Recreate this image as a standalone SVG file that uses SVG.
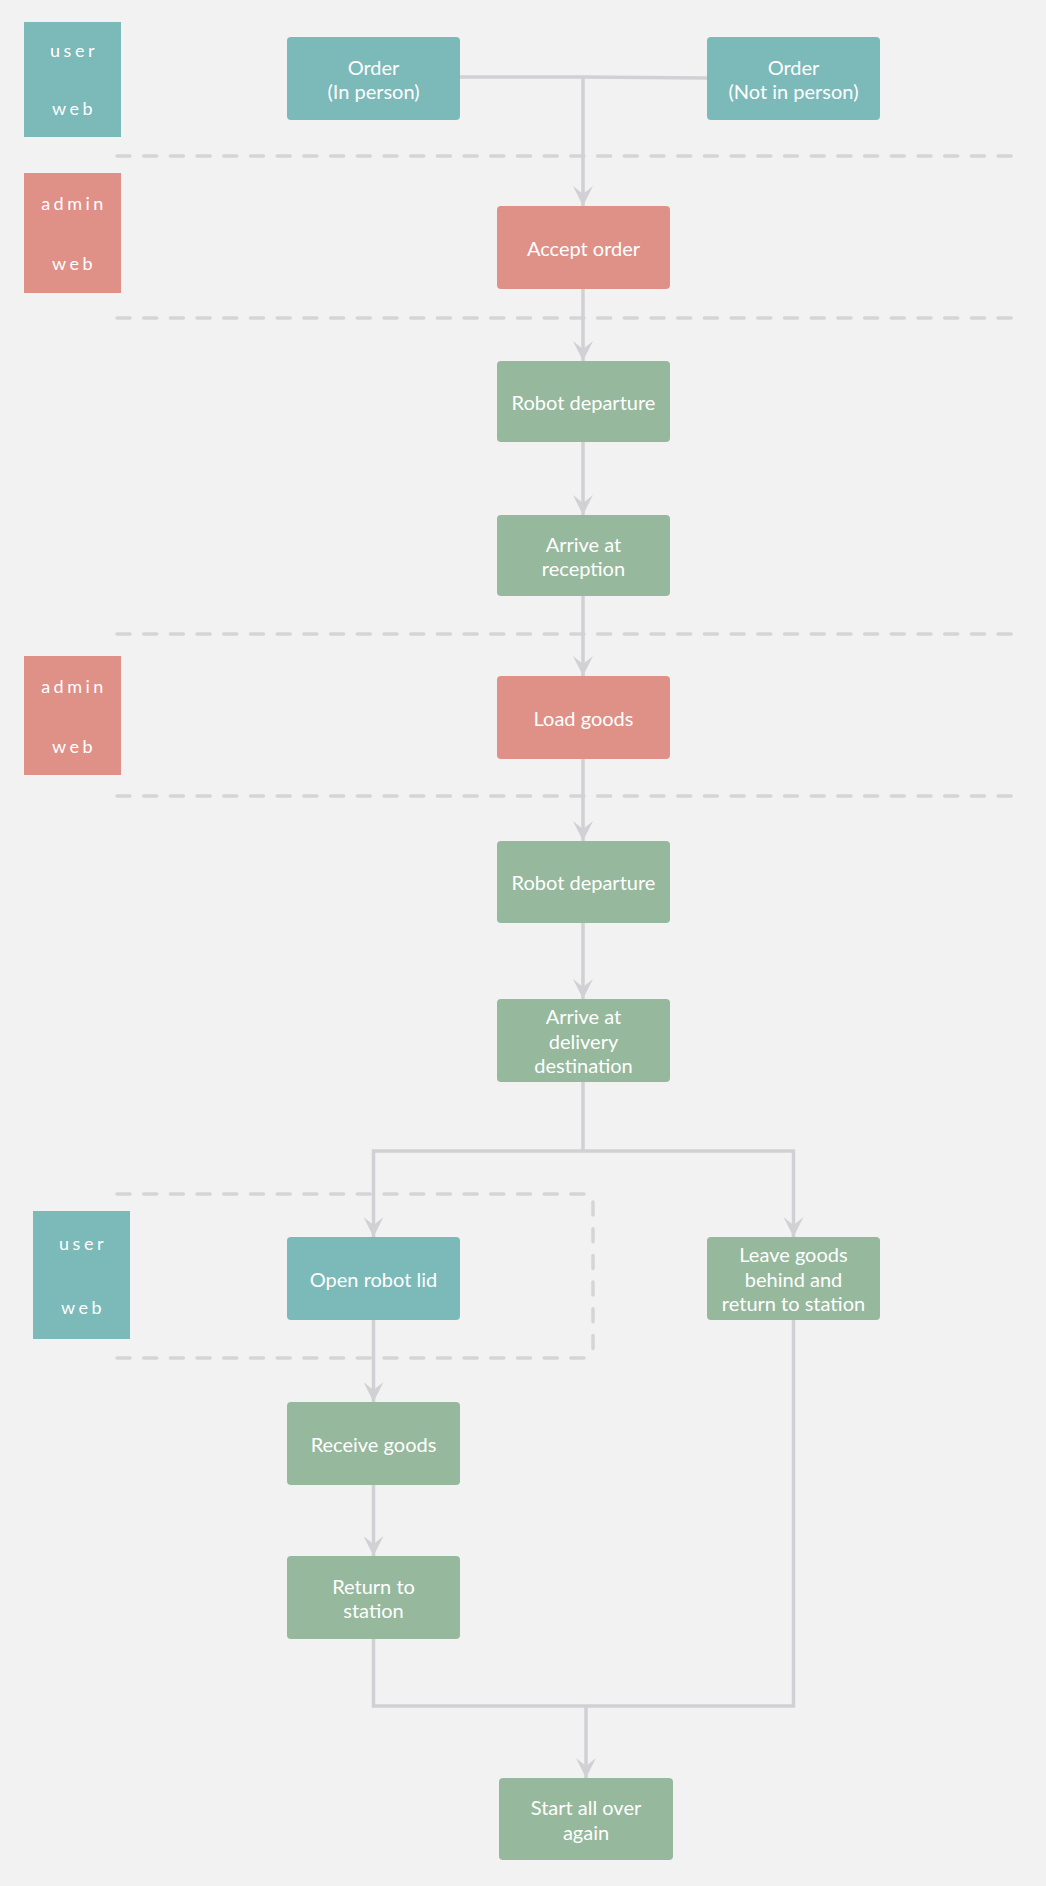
<svg xmlns="http://www.w3.org/2000/svg" width="1046" height="1886" viewBox="0 0 1046 1886">
<style>
.bg{fill:#f2f2f2}
.teal{fill:#7cb9b9}
.red{fill:#df9087}
.green{fill:#96b89d}
.t{font-family:Lato,"Open Sans","Liberation Sans",sans-serif;font-size:20px;fill:#fff;text-anchor:middle}
.lane{font-family:Lato,"Open Sans","Liberation Sans",sans-serif;font-size:18px;fill:#fff;text-anchor:middle;letter-spacing:3.5px}
.c{fill:none;stroke:#d1d1d5;stroke-width:3.5}
.d{fill:none;stroke:#d5d5d8;stroke-width:3.5;stroke-dasharray:13 13.7;stroke-linecap:round}
</style>
<defs>
<marker id="ah" viewBox="0 0 20 20" refX="20" refY="10" markerWidth="20" markerHeight="20" markerUnits="userSpaceOnUse" orient="auto">
<path d="M0,0 L20,10 L0,20 L8,10 z" fill="#d1d1d5"/>
</marker>
</defs>
<rect class="bg" x="0" y="0" width="1046" height="1886"/>
<g id="separators">
<line class="d" x1="117" y1="156" x2="1015" y2="156"/>
<line class="d" x1="117" y1="318" x2="1015" y2="318"/>
<line class="d" x1="117" y1="634" x2="1015" y2="634"/>
<line class="d" x1="117" y1="796" x2="1015" y2="796"/>
<line class="d" x1="117" y1="1194" x2="587" y2="1194"/>
<line class="d" x1="593" y1="1202" x2="593" y2="1352"/>
<line class="d" x1="117" y1="1358" x2="587" y2="1358"/>
</g>
<g id="lane-user-1"><rect class="teal" x="24" y="22" width="97" height="115"/><text class="lane" x="74" y="57">user</text><text class="lane" x="74" y="115">web</text></g>
<g id="lane-admin-1"><rect class="red" x="24" y="173" width="97" height="120"/><text class="lane" x="74" y="210">admin</text><text class="lane" x="74" y="270">web</text></g>
<g id="lane-admin-2"><rect class="red" x="24" y="656" width="97" height="119"/><text class="lane" x="74" y="693">admin</text><text class="lane" x="74" y="753">web</text></g>
<g id="lane-user-3"><rect class="teal" x="33" y="1211" width="97" height="128"/><text class="lane" x="83" y="1250">user</text><text class="lane" x="83" y="1314">web</text></g>
<g id="connectors">
<path class="c" d="M460,77 H583"/>
<path class="c" d="M707,78 L583,77"/>
<path class="c" d="M583,77 V206" marker-end="url(#ah)"/>
<path class="c" d="M583,289 V361" marker-end="url(#ah)"/>
<path class="c" d="M583,442 V515" marker-end="url(#ah)"/>
<path class="c" d="M583,596 V676" marker-end="url(#ah)"/>
<path class="c" d="M583,759 V841" marker-end="url(#ah)"/>
<path class="c" d="M583,923 V999" marker-end="url(#ah)"/>
<path class="c" d="M583,1082 V1151 H373.5 V1237" marker-end="url(#ah)"/>
<path class="c" d="M583,1151 H793.5 V1237" marker-end="url(#ah)"/>
<path class="c" d="M373.5,1320 V1402" marker-end="url(#ah)"/>
<path class="c" d="M373.5,1485 V1556" marker-end="url(#ah)"/>
<path class="c" d="M373.5,1639 V1706 H586"/>
<path class="c" d="M793.5,1320 V1706 H586"/>
<path class="c" d="M586,1706 V1778" marker-end="url(#ah)"/>
</g>
<g id="order-in-person"><rect class="teal" x="287" y="37" width="173" height="83" rx="4"/><text class="t" x="373.5" y="74.5">Order</text><text class="t" x="373.5" y="99">(In person)</text></g>
<g id="order-not-in-person"><rect class="teal" x="707" y="37" width="173" height="83" rx="4"/><text class="t" x="793.5" y="74.5">Order</text><text class="t" x="793.5" y="99">(Not in person)</text></g>
<g id="accept-order"><rect class="red" x="497" y="206" width="173" height="83" rx="4"/><text class="t" x="583.5" y="255.5">Accept order</text></g>
<g id="robot-departure-1"><rect class="green" x="497" y="361" width="173" height="81" rx="4"/><text class="t" x="583.5" y="409.5">Robot departure</text></g>
<g id="arrive-reception"><rect class="green" x="497" y="515" width="173" height="81" rx="4"/><text class="t" x="583.5" y="551.5">Arrive at</text><text class="t" x="583.5" y="576">reception</text></g>
<g id="load-goods"><rect class="red" x="497" y="676" width="173" height="83" rx="4"/><text class="t" x="583.5" y="725.5">Load goods</text></g>
<g id="robot-departure-2"><rect class="green" x="497" y="841" width="173" height="82" rx="4"/><text class="t" x="583.5" y="890">Robot departure</text></g>
<g id="arrive-delivery"><rect class="green" x="497" y="999" width="173" height="83" rx="4"/><text class="t" x="583.5" y="1024">Arrive at</text><text class="t" x="583.5" y="1048.5">delivery</text><text class="t" x="583.5" y="1073">destination</text></g>
<g id="open-robot-lid"><rect class="teal" x="287" y="1237" width="173" height="83" rx="4"/><text class="t" x="373.5" y="1286.5">Open robot lid</text></g>
<g id="leave-goods"><rect class="green" x="707" y="1237" width="173" height="83" rx="4"/><text class="t" x="793.5" y="1262">Leave goods</text><text class="t" x="793.5" y="1286.5">behind and</text><text class="t" x="793.5" y="1311">return to station</text></g>
<g id="receive-goods"><rect class="green" x="287" y="1402" width="173" height="83" rx="4"/><text class="t" x="373.5" y="1451.5">Receive goods</text></g>
<g id="return-to-station"><rect class="green" x="287" y="1556" width="173" height="83" rx="4"/><text class="t" x="373.5" y="1593.5">Return to</text><text class="t" x="373.5" y="1618">station</text></g>
<g id="start-all-over"><rect class="green" x="499" y="1778" width="174" height="82" rx="4"/><text class="t" x="586" y="1815">Start all over</text><text class="t" x="586" y="1839.5">again</text></g>
</svg>
